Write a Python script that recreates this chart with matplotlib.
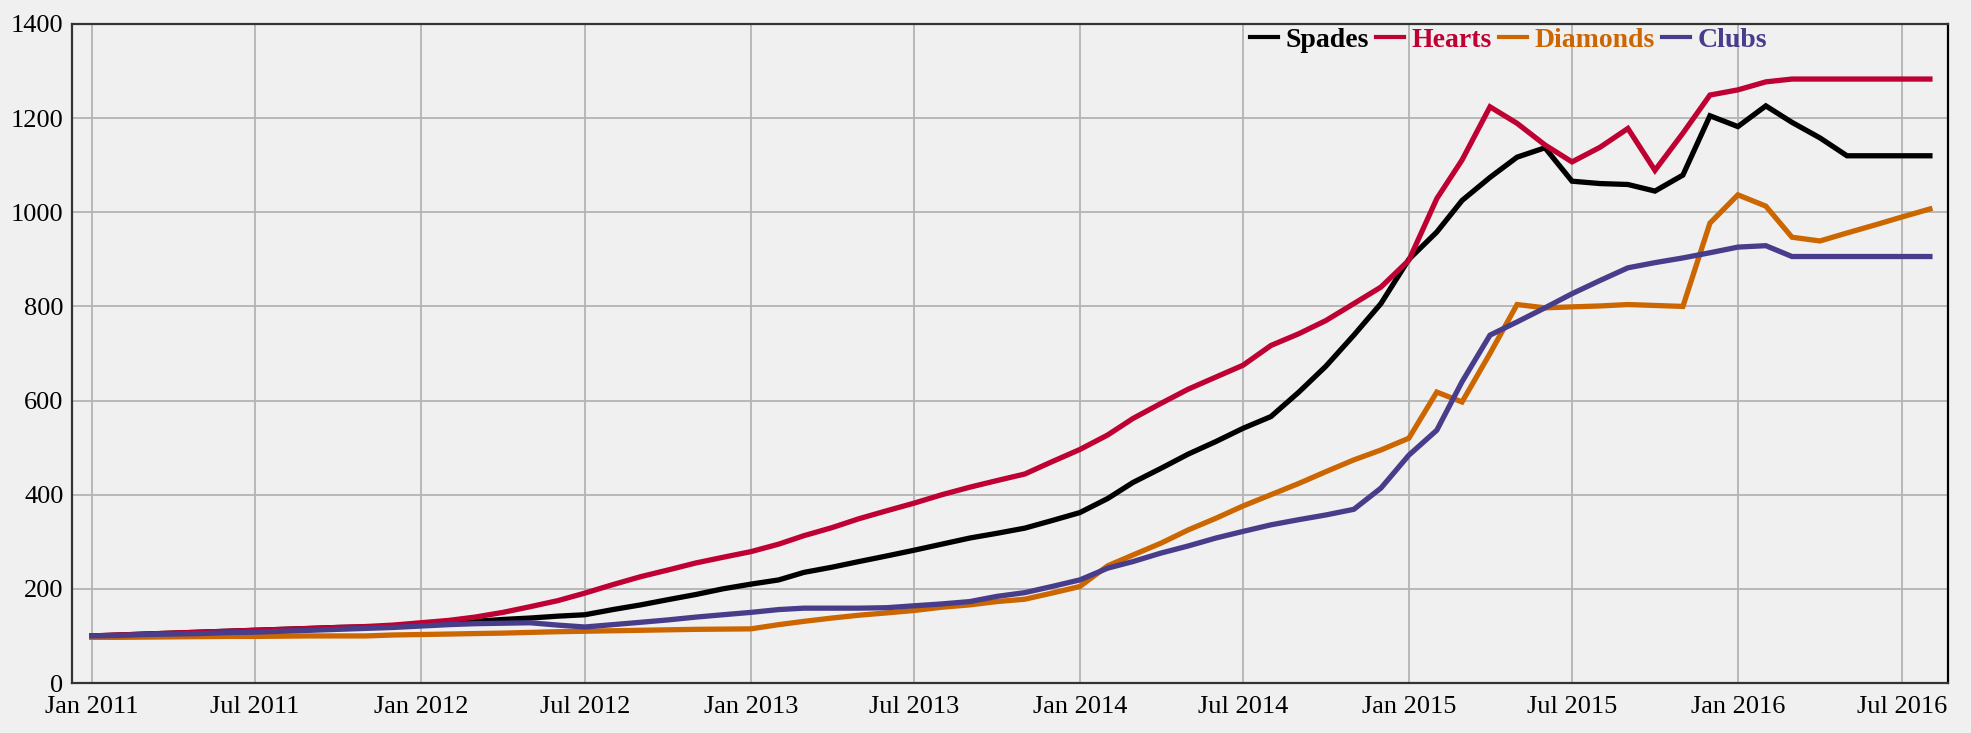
import matplotlib
matplotlib.use("Agg")
import matplotlib.pyplot as plt
import matplotlib.dates as mdates
import pandas as pd

plt.rcParams['font.family'] = ['Liberation Serif', 'DejaVu Serif']

months = pd.date_range('2011-01-01', '2016-08-01', freq='MS')

spades = [100, 102, 104, 106, 108, 110, 112, 114, 116, 118, 119, 121,
          123, 126, 131, 135, 138, 142, 145, 156, 166, 177, 188, 200,
          210, 219, 235, 246, 258, 270, 282, 295, 308, 318, 329, 345,
          362, 392, 426, 456, 486, 513, 541, 566, 618, 673, 739, 806,
          900, 958, 1025, 1074, 1117, 1137, 1066, 1061, 1059, 1045, 1079, 1205,
          1182, 1226, 1191, 1158, 1120, 1120, 1120, 1120]
hearts = [100, 102, 104, 106, 108, 110, 112, 114, 116, 118, 120, 123,
          128, 133, 140, 150, 162, 175, 191, 209, 226, 240, 255, 267,
          279, 295, 313, 330, 349, 366, 382, 400, 416, 430, 444, 470,
          496, 527, 562, 594, 624, 650, 675, 717, 742, 770, 806, 841,
          898, 1029, 1111, 1224, 1189, 1143, 1107, 1138, 1178, 1089, 1168, 1249,
          1260, 1277, 1283, 1283, 1283, 1283, 1283, 1283]
diamonds = [97, 97, 97.5, 98, 98.5, 99, 99, 99.5, 100, 100, 100, 102,
            103, 104, 105, 106, 107.5, 109, 110, 111, 112, 113, 114, 114.5,
            115, 124, 131, 138, 144, 149, 154, 161, 166, 173, 178, 191,
            205, 249, 272, 297, 325, 350, 376, 400, 424, 449, 474, 495,
            520, 618, 597, 700, 804, 797, 799, 801, 804, 802, 800, 977,
            1037, 1013, 947, 939, 956, 973, 990, 1007]
clubs = [100, 101, 103, 104, 105, 107, 108, 110, 112, 114, 116, 118,
         121, 124, 126, 127, 128, 123, 119, 124, 129, 134, 140, 145,
         150, 156, 159, 159, 159, 160, 164, 168, 173, 184, 192, 205,
         219, 244, 258, 276, 291, 308, 322, 336, 347, 357, 369, 414,
         484, 537, 640, 739, 767, 797, 827, 855, 882, 893, 903, 914,
         926, 929, 906, 906, 906, 906, 906, 906]

series_names = ['Spades', 'Hearts', 'Diamonds', 'Clubs']
series_colors = ['#000000', '#BE0032', '#CC6600', '#483D8B']
y_ticks = [0, 200, 400, 600, 800, 1000, 1200, 1400]

bg = '#F0F0F0'
fig = plt.figure(figsize=(19.71, 7.33), dpi=100, facecolor=bg)
ax = fig.add_axes([0.0365, 0.0682, 0.9518, 0.8991], facecolor=bg)

for name, vals, col in zip(series_names, [spades, hearts, diamonds, clubs], series_colors):
    ax.plot(months, vals, color=col, lw=3.8, label=name, solid_joinstyle='miter')

ax.set_xlim(pd.Timestamp('2010-12-10'), pd.Timestamp('2016-08-21'))
ax.set_ylim(0, 1400)
ax.set_yticks(y_ticks)
ax.xaxis.set_major_locator(mdates.MonthLocator(bymonth=[1, 7]))
ax.xaxis.set_major_formatter(mdates.DateFormatter('%b %Y'))
ax.grid(True, color='#B4B4B4', lw=1.3)
ax.set_axisbelow(True)
ax.tick_params(axis='both', length=0, labelsize=19, colors='black')
ax.tick_params(axis='y', pad=6)
ax.tick_params(axis='x', pad=9)
for s in ['left', 'bottom', 'top']:
    ax.spines[s].set_color('#333333')
    ax.spines[s].set_linewidth(1.6)
ax.spines['right'].set_color('black')
ax.spines['right'].set_linewidth(1.6)

leg = ax.legend(loc='upper left', bbox_to_anchor=(0.622, 1.012), ncol=4, frameon=False,
                prop={'weight': 'bold', 'size': 20}, handlelength=1.0,
                handletextpad=0.27, columnspacing=0.27, borderaxespad=0.0)
for txt, col in zip(leg.get_texts(), series_colors):
    txt.set_color(col)
for h in leg.get_lines():
    h.set_linewidth(3.0)

fig.savefig('out.png', dpi=100, facecolor=bg)
